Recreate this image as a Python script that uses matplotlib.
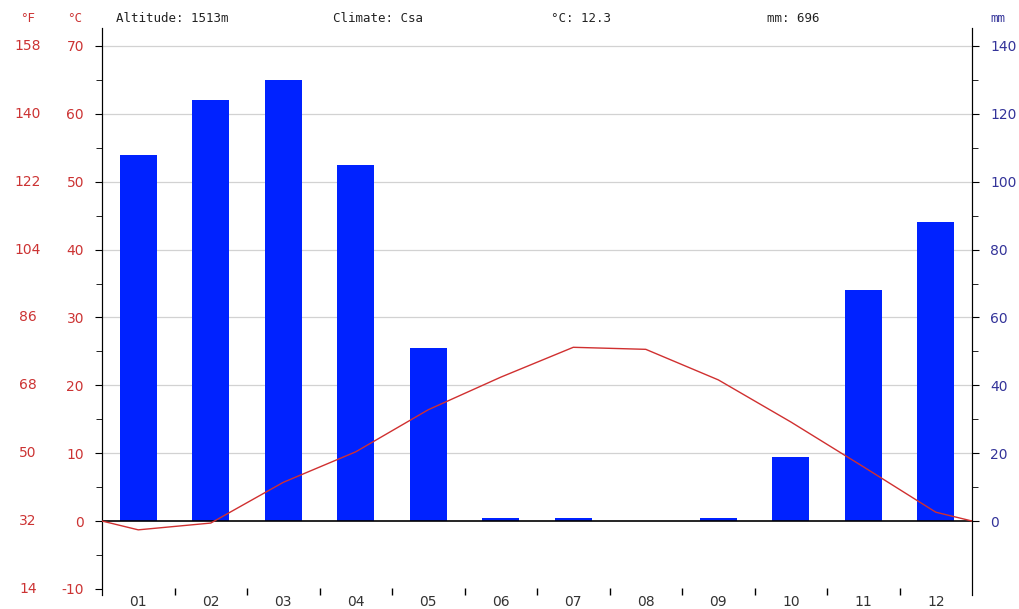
import numpy as np
import matplotlib.pyplot as plt
from matplotlib.transforms import blended_transform_factory

plt.rcParams['axes.unicode_minus'] = False

months = ['01', '02', '03', '04', '05', '06', '07', '08', '09', '10', '11', '12']
precip_mm = [108, 124, 130, 105, 51, 1, 1, 0, 1, 19, 68, 88]
temp_c = [-1.3, -0.3, 5.7, 10.2, 16.4, 21.2, 25.6, 25.3, 20.8, 14.6, 8.0, 1.3]
c_ticks = [-10, 0, 10, 20, 30, 40, 50, 60, 70]
f_ticks = [14, 32, 50, 68, 86, 104, 122, 140, 158]
mm_ticks = [0, 20, 40, 60, 80, 100, 120, 140]

red = '#cc3333'
blue_txt = '#333399'
bar_col = '#0022ff'

fig = plt.figure(figsize=(10.2, 6.09), dpi=100)
ax = fig.add_axes([0.1, 0.023, 0.853, 0.931])
ax2 = ax.twinx()

ylo, yhi = -10.9, 72.65
ax.set_ylim(ylo, yhi)
ax2.set_ylim(ylo * 2, yhi * 2)
ax.set_xlim(0, 12)

x = np.arange(12) + 0.5
# gridlines behind the bars (mm scale is 2x the degC scale)
for m in mm_ticks[1:]:
    ax2.axhline(m, color='#d2d2d2', lw=0.9, zorder=0)
ax.axhline(0, color='black', lw=1.2, zorder=3)

ax2.bar(x, precip_mm, width=0.51, color=bar_col, zorder=2)

edge = (temp_c[0] + temp_c[-1]) / 2
tx = np.concatenate([[0], x, [12]])
ty = np.concatenate([[edge], temp_c, [edge]])
ax.plot(tx, ty, color='#d03030', lw=1, zorder=4)
ax.set_zorder(ax2.get_zorder() + 1)
ax.patch.set_visible(False)

for a in (ax, ax2):
    a.spines['top'].set_visible(False)
    a.spines['bottom'].set_visible(False)

ax.set_yticks(c_ticks)
ax.set_yticks(np.arange(-5, 70, 10), minor=True)
ax.tick_params(axis='y', which='both', direction='out', length=5, colors='black',
               labelcolor=red, labelsize=10, pad=8)
ax.tick_params(axis='y', which='minor', length=4)

ax2.set_yticks(mm_ticks)
ax2.set_yticks(np.arange(10, 140, 20), minor=True)
ax2.tick_params(axis='y', which='both', direction='out', length=5, colors='black',
                labelcolor=blue_txt, labelsize=10, pad=8)
ax2.tick_params(axis='y', which='minor', length=4)

ax.set_xticks(x)
ax.set_xticklabels(months)
ax.set_xticks(np.arange(1, 12), minor=True)
ax.tick_params(axis='x', which='major', length=0, labelsize=10, labelcolor='#333333', pad=0)
ax.tick_params(axis='x', which='minor', direction='in', length=5, width=1)

trans = blended_transform_factory(ax.transAxes, ax.transData)
for c, f in zip(c_ticks, f_ticks):
    ax.text(-0.085, c, str(f), transform=trans, color=red, fontsize=10,
            ha='center', va='center')

# header
fig.text(28 / 1020, 1 - 18 / 609, '°F', color=red, fontsize=9, ha='center', va='center',
         family='DejaVu Sans Mono')
fig.text(75 / 1020, 1 - 18 / 609, '°C', color=red, fontsize=9, ha='center', va='center',
         family='DejaVu Sans Mono')
fig.text(998 / 1020, 1 - 18 / 609, 'mm', color=blue_txt, fontsize=9, ha='center', va='center',
         family='DejaVu Sans Mono')
hdr = [(116, 'Altitude: 1513m'), (333, 'Climate: Csa'), (551, '°C: 12.3'), (767, 'mm: 696')]
for px, s in hdr:
    fig.text(px / 1020, 1 - 18 / 609, s, color='#222222', fontsize=9, ha='left', va='center',
             family='DejaVu Sans Mono')

fig.savefig('out.png', dpi=100)
